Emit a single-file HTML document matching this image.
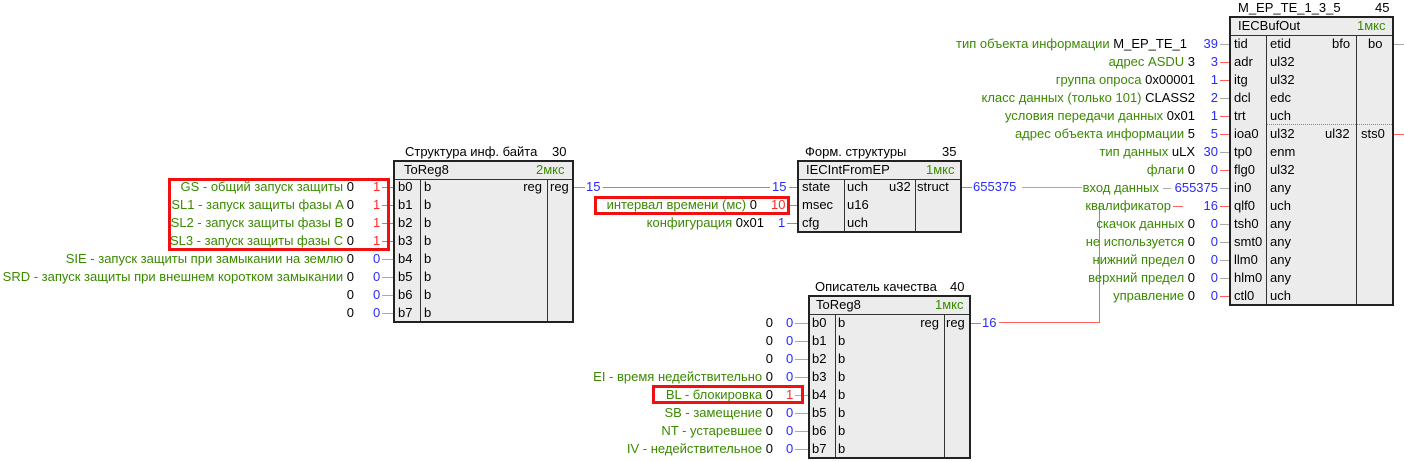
<!DOCTYPE html>
<html><head><meta charset="utf-8"><style>
body{margin:0;width:1404px;height:461px;background:#fff;position:relative;overflow:hidden;font-family:"Liberation Sans","DejaVu Sans",sans-serif;}
.t{position:absolute;font-size:13px;line-height:14px;white-space:nowrap;color:#000}
.g{color:#3a8a00}.b{color:#2a2aff}.r{color:#ff2a2a}
.h{position:absolute;height:1px;background:#aaa}
.hr{position:absolute;height:1px;background:#ff6060}
.v{position:absolute;width:1px;background:#ff6060}
.box{position:absolute;border:2px solid #222;background:#ececec;box-sizing:border-box}
.hd{position:absolute;left:0;right:0;top:0;height:17px;border-bottom:1px solid #333;background:#ececec}
.dv{position:absolute;width:1px;background:#333}
.hl{position:absolute;border:3px solid #f01010;box-sizing:border-box}
</style></head><body>

<!-- Block 30 -->
<div class="t" style="left:405px;top:145px">Структура инф. байта</div>
<div class="t" style="left:552px;top:145px">30</div>
<div class="box" style="left:393px;top:160px;width:181px;height:163px">
 <div class="hd"></div>
 <div class="dv" style="left:25px;top:17px;bottom:0"></div>
 <div class="dv" style="left:152px;top:17px;bottom:0"></div>
</div>
<div class="t" style="left:404px;top:163px">ToReg8</div>
<div class="t g" style="left:536px;top:163px">2мкс</div>
<div class="t" style="left:398px;top:180px">b0</div><div class="t" style="left:424px;top:180px">b</div>
<div class="t" style="left:398px;top:198px">b1</div><div class="t" style="left:424px;top:198px">b</div>
<div class="t" style="left:398px;top:216px">b2</div><div class="t" style="left:424px;top:216px">b</div>
<div class="t" style="left:398px;top:234px">b3</div><div class="t" style="left:424px;top:234px">b</div>
<div class="t" style="left:398px;top:252px">b4</div><div class="t" style="left:424px;top:252px">b</div>
<div class="t" style="left:398px;top:270px">b5</div><div class="t" style="left:424px;top:270px">b</div>
<div class="t" style="left:398px;top:288px">b6</div><div class="t" style="left:424px;top:288px">b</div>
<div class="t" style="left:398px;top:306px">b7</div><div class="t" style="left:424px;top:306px">b</div>
<div class="t" style="right:862px;top:180px">reg</div>
<div class="t" style="left:550px;top:180px">reg</div>

<div class="t" style="right:1050px;top:180px"><span class="g">GS - общий запуск защиты</span> 0</div>
<div class="t" style="right:1050px;top:198px"><span class="g">SL1 - запуск защиты фазы A</span> 0</div>
<div class="t" style="right:1050px;top:216px"><span class="g">SL2 - запуск защиты фазы B</span> 0</div>
<div class="t" style="right:1050px;top:234px"><span class="g">SL3 - запуск защиты фазы C</span> 0</div>
<div class="t" style="right:1050px;top:252px"><span class="g">SIE - запуск защиты при замыкании на землю</span> 0</div>
<div class="t" style="right:1050px;top:270px"><span class="g">SRD - запуск защиты при внешнем коротком замыкании</span> 0</div>
<div class="t" style="right:1050px;top:288px">0</div>
<div class="t" style="right:1050px;top:306px">0</div>
<div class="t r" style="left:373px;top:180px">1</div><div class="hr" style="left:382px;top:187px;width:11px"></div>
<div class="t r" style="left:373px;top:198px">1</div><div class="hr" style="left:382px;top:205px;width:11px"></div>
<div class="t r" style="left:373px;top:216px">1</div><div class="hr" style="left:382px;top:223px;width:11px"></div>
<div class="t r" style="left:373px;top:234px">1</div><div class="hr" style="left:382px;top:241px;width:11px"></div>
<div class="t b" style="left:373px;top:252px">0</div><div class="h" style="left:382px;top:259px;width:11px"></div>
<div class="t b" style="left:373px;top:270px">0</div><div class="h" style="left:382px;top:277px;width:11px"></div>
<div class="t b" style="left:373px;top:288px">0</div><div class="h" style="left:382px;top:295px;width:11px"></div>
<div class="t b" style="left:373px;top:306px">0</div><div class="h" style="left:382px;top:313px;width:11px"></div>
<div class="hl" style="left:168px;top:178px;width:222px;height:73px"></div>

<div class="hr" style="left:574px;top:187px;width:11px"></div>
<div class="t b" style="left:586px;top:180px">15</div>
<div class="hr" style="left:603px;top:187px;width:167px"></div>
<div class="t b" style="left:772px;top:180px">15</div>
<div class="hr" style="left:789px;top:187px;width:8px"></div>

<!-- Block 35 -->
<div class="t" style="left:805px;top:145px">Форм. структуры</div>
<div class="t" style="left:942px;top:145px">35</div>
<div class="box" style="left:797px;top:160px;width:165px;height:73px">
 <div class="hd"></div>
 <div class="dv" style="left:45px;top:17px;bottom:0"></div>
 <div class="dv" style="left:116px;top:17px;bottom:0"></div>
</div>
<div class="t" style="left:806px;top:163px">IECIntFromEP</div>
<div class="t g" style="left:926px;top:163px">1мкс</div>
<div class="t" style="left:802px;top:180px">state</div><div class="t" style="left:847px;top:180px">uch</div><div class="t" style="left:889px;top:180px">u32</div><div class="t" style="left:917px;top:180px">struct</div>
<div class="t" style="left:802px;top:198px">msec</div><div class="t" style="left:847px;top:198px">u16</div>
<div class="t" style="left:802px;top:216px">cfg</div><div class="t" style="left:847px;top:216px">uch</div>
<div class="t" style="right:647px;top:198px"><span class="g">интервал времени (мс)</span> 0</div>
<div class="t r" style="left:771px;top:198px">10</div><div class="hr" style="left:789px;top:205px;width:8px"></div>
<div class="t" style="right:640px;top:216px"><span class="g">конфигурация</span> 0x01</div>
<div class="t b" style="left:778px;top:216px">1</div><div class="hr" style="left:787px;top:223px;width:10px"></div>
<div class="hl" style="left:594px;top:196px;width:196px;height:19px"></div>

<div class="hr" style="left:962px;top:187px;width:10px"></div>
<div class="t b" style="left:973px;top:180px">655375</div>
<div class="h" style="left:1022px;top:187px;width:60px"></div>

<!-- Block 40 -->
<div class="t" style="left:815px;top:280px">Описатель качества</div>
<div class="t" style="left:950px;top:280px">40</div>
<div class="box" style="left:808px;top:295px;width:163px;height:164px">
 <div class="hd"></div>
 <div class="dv" style="left:25px;top:17px;bottom:0"></div>
 <div class="dv" style="left:134px;top:17px;bottom:0"></div>
</div>
<div class="t" style="left:816px;top:298px">ToReg8</div>
<div class="t g" style="left:935px;top:298px">1мкс</div>
<div class="t" style="left:812px;top:316px">b0</div><div class="t" style="left:838px;top:316px">b</div>
<div class="t" style="left:812px;top:334px">b1</div><div class="t" style="left:838px;top:334px">b</div>
<div class="t" style="left:812px;top:352px">b2</div><div class="t" style="left:838px;top:352px">b</div>
<div class="t" style="left:812px;top:370px">b3</div><div class="t" style="left:838px;top:370px">b</div>
<div class="t" style="left:812px;top:388px">b4</div><div class="t" style="left:838px;top:388px">b</div>
<div class="t" style="left:812px;top:406px">b5</div><div class="t" style="left:838px;top:406px">b</div>
<div class="t" style="left:812px;top:424px">b6</div><div class="t" style="left:838px;top:424px">b</div>
<div class="t" style="left:812px;top:442px">b7</div><div class="t" style="left:838px;top:442px">b</div>
<div class="t" style="right:465px;top:316px">reg</div>
<div class="t" style="left:946px;top:316px">reg</div>
<div class="t" style="right:631px;top:316px">0</div>
<div class="t" style="right:631px;top:334px">0</div>
<div class="t" style="right:631px;top:352px">0</div>
<div class="t" style="right:631px;top:370px"><span class="g">EI - время недействительно</span> 0</div>
<div class="t" style="right:631px;top:388px"><span class="g">BL - блокировка</span> 0</div>
<div class="t" style="right:631px;top:406px"><span class="g">SB - замещение</span> 0</div>
<div class="t" style="right:631px;top:424px"><span class="g">NT - устаревшее</span> 0</div>
<div class="t" style="right:631px;top:442px"><span class="g">IV - недействительное</span> 0</div>
<div class="t b" style="left:786px;top:316px">0</div><div class="h" style="left:795px;top:323px;width:13px"></div>
<div class="t b" style="left:786px;top:334px">0</div><div class="h" style="left:795px;top:341px;width:13px"></div>
<div class="t b" style="left:786px;top:352px">0</div><div class="h" style="left:795px;top:359px;width:13px"></div>
<div class="t b" style="left:786px;top:370px">0</div><div class="h" style="left:795px;top:377px;width:13px"></div>
<div class="t r" style="left:786px;top:388px">1</div><div class="h" style="left:795px;top:395px;width:13px"></div>
<div class="t b" style="left:786px;top:406px">0</div><div class="h" style="left:795px;top:413px;width:13px"></div>
<div class="t b" style="left:786px;top:424px">0</div><div class="h" style="left:795px;top:431px;width:13px"></div>
<div class="t b" style="left:786px;top:442px">0</div><div class="h" style="left:795px;top:449px;width:13px"></div>
<div class="hl" style="left:652px;top:385px;width:152px;height:19px"></div>
<div class="hr" style="left:971px;top:323px;width:10px"></div>
<div class="t b" style="left:982px;top:316px">16</div>
<div class="hr" style="left:999px;top:322px;width:100px"></div>
<div class="v" style="left:1099px;top:203px;height:120px"></div>

<!-- Block 45 -->
<div class="t" style="left:1238px;top:1px">M_EP_TE_1_3_5</div>
<div class="t" style="left:1375px;top:1px">45</div>
<div class="box" style="left:1229px;top:16px;width:165px;height:290px">
 <div class="hd"></div>
 <div class="dv" style="left:35px;top:17px;bottom:0"></div>
 <div class="dv" style="left:125px;top:17px;bottom:0"></div>
 <div style="position:absolute;left:36px;width:89px;top:106px;border-top:1px dotted #888"></div>
 <div style="position:absolute;left:126px;right:0;top:106px;border-top:1px dotted #888"></div>
</div>
<div class="t" style="left:1238px;top:19px">IECBufOut</div>
<div class="t g" style="left:1357px;top:19px">1мкс</div>

<div class="t" style="left:1234px;top:37px">tid</div><div class="t" style="left:1270px;top:37px">etid</div><div class="t" style="left:1332px;top:37px">bfo</div><div class="t" style="left:1368px;top:37px">bo</div>
<div class="t" style="left:1234px;top:55px">adr</div><div class="t" style="left:1270px;top:55px">ul32</div>
<div class="t" style="left:1234px;top:73px">itg</div><div class="t" style="left:1270px;top:73px">ul32</div>
<div class="t" style="left:1234px;top:91px">dcl</div><div class="t" style="left:1270px;top:91px">edc</div>
<div class="t" style="left:1234px;top:109px">trt</div><div class="t" style="left:1270px;top:109px">uch</div>
<div class="t" style="left:1234px;top:127px">ioa0</div><div class="t" style="left:1270px;top:127px">ul32</div><div class="t" style="left:1325px;top:127px">ul32</div><div class="t" style="left:1361px;top:127px">sts0</div>
<div class="t" style="left:1234px;top:145px">tp0</div><div class="t" style="left:1270px;top:145px">enm</div>
<div class="t" style="left:1234px;top:163px">flg0</div><div class="t" style="left:1270px;top:163px">ul32</div>
<div class="t" style="left:1234px;top:181px">in0</div><div class="t" style="left:1270px;top:181px">any</div>
<div class="t" style="left:1234px;top:199px">qlf0</div><div class="t" style="left:1270px;top:199px">uch</div>
<div class="t" style="left:1234px;top:217px">tsh0</div><div class="t" style="left:1270px;top:217px">any</div>
<div class="t" style="left:1234px;top:235px">smt0</div><div class="t" style="left:1270px;top:235px">any</div>
<div class="t" style="left:1234px;top:253px">llm0</div><div class="t" style="left:1270px;top:253px">any</div>
<div class="t" style="left:1234px;top:271px">hlm0</div><div class="t" style="left:1270px;top:271px">any</div>
<div class="t" style="left:1234px;top:289px">ctl0</div><div class="t" style="left:1270px;top:289px">uch</div>
<div class="h" style="left:1394px;top:44px;width:10px"></div>
<div class="hr" style="left:1394px;top:134px;width:10px"></div>

<div class="t" style="right:217px;top:37px"><span class="g">тип объекта информации</span> M_EP_TE_1</div>
<div class="t" style="right:209px;top:55px"><span class="g">адрес ASDU</span> 3</div>
<div class="t" style="right:209px;top:73px"><span class="g">группа опроса</span> 0x00001</div>
<div class="t" style="right:209px;top:91px"><span class="g">класс данных (только 101)</span> CLASS2</div>
<div class="t" style="right:209px;top:109px"><span class="g">условия передачи данных</span> 0x01</div>
<div class="t" style="right:209px;top:127px"><span class="g">адрес объекта информации</span> 5</div>
<div class="t" style="right:209px;top:145px"><span class="g">тип данных</span> uLX</div>
<div class="t" style="right:209px;top:163px"><span class="g">флаги</span> 0</div>
<div class="t g" style="right:245px;top:181px">вход данных</div><div class="h" style="left:1163px;top:188px;width:8px"></div>
<div class="t g" style="right:233px;top:199px">квалификатор</div><div class="hr" style="left:1173px;top:206px;width:10px"></div>
<div class="t" style="right:209px;top:217px"><span class="g">скачок данных</span> 0</div>
<div class="t" style="right:209px;top:235px"><span class="g">не используется</span> 0</div>
<div class="t" style="right:209px;top:253px"><span class="g">нижний предел</span> 0</div>
<div class="t" style="right:209px;top:271px"><span class="g">верхний предел</span> 0</div>
<div class="t" style="right:209px;top:289px"><span class="g">управление</span> 0</div>

<div class="t b" style="right:186px;top:37px">39</div><div class="h" style="left:1220px;top:44px;width:9px"></div>
<div class="t b" style="right:186px;top:55px">3</div><div class="hr" style="left:1220px;top:62px;width:9px"></div>
<div class="t b" style="right:186px;top:73px">1</div><div class="hr" style="left:1220px;top:80px;width:9px"></div>
<div class="t b" style="right:186px;top:91px">2</div><div class="h" style="left:1220px;top:98px;width:9px"></div>
<div class="t b" style="right:186px;top:109px">1</div><div class="hr" style="left:1220px;top:116px;width:9px"></div>
<div class="t b" style="right:186px;top:127px">5</div><div class="hr" style="left:1220px;top:134px;width:9px"></div>
<div class="t b" style="right:186px;top:145px">30</div><div class="h" style="left:1220px;top:152px;width:9px"></div>
<div class="t b" style="right:186px;top:163px">0</div><div class="hr" style="left:1220px;top:170px;width:9px"></div>
<div class="t b" style="right:186px;top:181px">655375</div><div class="h" style="left:1220px;top:188px;width:9px"></div>
<div class="t b" style="right:186px;top:199px">16</div><div class="hr" style="left:1220px;top:206px;width:9px"></div>
<div class="t b" style="right:186px;top:217px">0</div><div class="h" style="left:1220px;top:224px;width:9px"></div>
<div class="t b" style="right:186px;top:235px">0</div><div class="h" style="left:1220px;top:242px;width:9px"></div>
<div class="t b" style="right:186px;top:253px">0</div><div class="h" style="left:1220px;top:260px;width:9px"></div>
<div class="t b" style="right:186px;top:271px">0</div><div class="h" style="left:1220px;top:278px;width:9px"></div>
<div class="t b" style="right:186px;top:289px">0</div><div class="hr" style="left:1220px;top:296px;width:9px"></div>

</body></html>
